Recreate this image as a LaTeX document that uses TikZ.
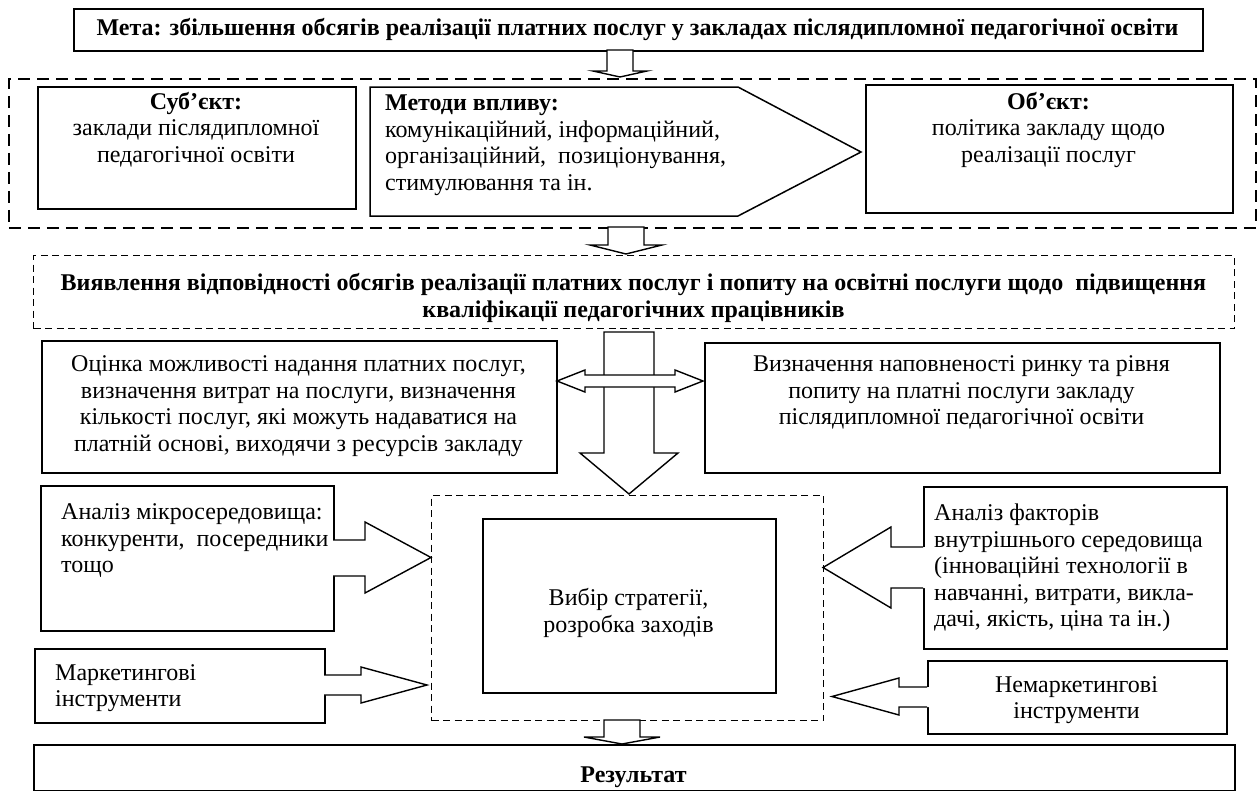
\documentclass[tikz,border=0pt]{standalone}
\usepackage{fontspec}
\setmainfont{Liberation Serif}
\begin{document}
\begin{tikzpicture}[x=1pt,y=-1pt,
  box/.style={draw, line width=1.5pt, anchor=north west, inner sep=0pt},
  dbox/.style={draw, line width=1.5pt, dash pattern=on 12pt off 7pt, anchor=north west, inner sep=0pt},
  sbox/.style={draw, line width=1.2pt, dash pattern=on 7pt off 4.5pt, anchor=north west, inner sep=0pt},
  txt/.style={font=\fontsize{24}{26.5}\selectfont, inner sep=0pt, align=center},
  btxt/.style={font=\bfseries\fontsize{24}{26.5}\selectfont, inner sep=0pt, align=center},
  ltxt/.style={font=\fontsize{24}{26.5}\selectfont, inner sep=0pt, align=left},
  blk/.style={line width=1.4pt, line join=miter},
  blkfill/.style={fill=white}
]
\useasboundingbox (0,0) rectangle (1258,790);
\fill[white] (0,0) rectangle (1258,790);

% ---- top goal
\node[box, minimum width=1129pt, minimum height=42pt] (meta) at (73,8) {};
\node[btxt] (metat) at (637.5,29) {Мета: збільшення обсягів реалізації платних послуг у закладах післядипломної педагогічної освіти};

% ---- outer dashed region
\node[dbox, minimum width=1247pt, minimum height=149pt] (outer) at (8,78) {};
\node[box, minimum width=318pt, minimum height=122pt] (sub) at (37,86) {};
\node[txt, anchor=north] (subt) at (196,92) {\textbf{Суб’єкт:}\\заклади післядипломної\\педагогічної освіти};
\draw[line width=1.5pt, line join=miter] (370,87) -- (738,87) -- (861,152) -- (738,216) -- (370,216) -- cycle;
\coordinate (meth) at (370,87);
\node[ltxt, anchor=north west] (metht) at (385,95) {\textbf{Методи впливу:}\\комунікаційний, інформаційний,\\організаційний,\ \ позиціонування,\\стимулювання та ін.};
\node[box, minimum width=367pt, minimum height=128pt] (obj) at (865,84) {};
\node[txt, anchor=north] (objt) at (1048.5,92) {\textbf{Об’єкт:}\\політика закладу щодо\\реалізації послуг};

% arrow goal -> region
\filldraw[blk, blkfill] (607,50) -- (607,71) -- (593,71) -- (620,77) -- (647,71) -- (633,71) -- (633,50) -- cycle;

% ---- identification
\node[sbox, minimum width=1201pt, minimum height=73pt] (vyav) at (33,255) {};
\node[btxt] (vyavt) at (633.5,298) {Виявлення відповідності обсягів реалізації платних послуг і попиту на освітні послуги щодо\ \ підвищення\\кваліфікації педагогічних працівників};
\filldraw[blk, blkfill] (608,227) -- (608,245) -- (590,245) -- (626,254) -- (662,245) -- (644,245) -- (644,227) -- cycle;

% ---- two assessment boxes
\node[box, minimum width=515pt, minimum height=132pt] (ots) at (41,340) {};
\node[txt] (otst) at (298.5,406) {Оцінка можливості надання платних послуг,\\визначення витрат на послуги, визначення\\кількості послуг, які можуть надаватися на\\платній основі, виходячи з ресурсів закладу};
\node[box, minimum width=515pt, minimum height=130pt] (vyz) at (704,342) {};
\node[txt] (vyzt) at (961.5,392.5) {Визначення наповненості ринку та рівня\\попиту на платні послуги закладу\\післядипломної педагогічної освіти};

% big down arrow
\filldraw[blk, blkfill] (604,332) -- (654,332) -- (654,453) -- (678,453) -- (629,494) -- (580,453) -- (604,453) -- cycle;
% double arrow
\filldraw[blk, blkfill] (557,381) -- (585,370) -- (585,375) -- (675,375) -- (675,370) -- (703,381) -- (675,392) -- (675,387) -- (585,387) -- (585,392) -- cycle;

% ---- strategy block
\node[sbox, minimum width=392pt, minimum height=225pt] (cdash) at (431,495) {};
\node[box, minimum width=293pt, minimum height=174pt] (inner) at (482,518) {};
\node[txt] (innert) at (628.5,613) {Вибір стратегії,\\розробка заходів};

% left side inputs
\node[box, minimum width=293pt, minimum height=145pt] (mikro) at (40,485) {};
\node[ltxt, anchor=west] (mikrot) at (61,541) {Аналіз мікросередовища:\\конкуренти,\ \ посередники\\тощо};
\fill[white] (331,540) -- (365,540) -- (365,522) -- (431,557.5) -- (365,593) -- (365,576) -- (331,576) -- cycle;
\draw[blk] (333,540) -- (365,540) -- (365,522) -- (431,557.5) -- (365,593) -- (365,576) -- (333,576);

\node[box, minimum width=290pt, minimum height=74pt] (mark) at (34,648) {};
\node[ltxt, anchor=west] (markt) at (55,688) {Маркетингові\\інструменти};
\fill[white] (322,675) -- (361,675) -- (361,667) -- (427,685) -- (361,703) -- (361,695) -- (322,695) -- cycle;
\draw[blk] (324,675) -- (361,675) -- (361,667) -- (427,685) -- (361,703) -- (361,695) -- (324,695);

% right side inputs
\node[box, minimum width=303pt, minimum height=162pt] (fakt) at (923,486) {};
\node[ltxt, anchor=west] (faktt) at (934,568) {Аналіз факторів\\внутрішнього середовища\\(інноваційні технології в\\навчанні, витрати, викла-\\дачі, якість, ціна та ін.)};
\fill[white] (925,547) -- (891,547) -- (891,527) -- (823,567.5) -- (891,608) -- (891,588) -- (925,588) -- cycle;
\draw[blk] (923,547) -- (891,547) -- (891,527) -- (823,567.5) -- (891,608) -- (891,588) -- (923,588);

\node[box, minimum width=299pt, minimum height=73pt] (nemark) at (927,660) {};
\node[txt] (nemarkt) at (1076.5,700) {Немаркетингові\\інструменти};
\fill[white] (929,687) -- (899,687) -- (899,678) -- (832,696.5) -- (899,715) -- (899,707) -- (929,707) -- cycle;
\draw[blk] (927,687) -- (899,687) -- (899,678) -- (832,696.5) -- (899,715) -- (899,707) -- (927,707);

% ---- result
\filldraw[blk, blkfill] (604,720) -- (604,737) -- (584,737) -- (622,744) -- (660,737) -- (640,737) -- (640,720) -- cycle;
\node[box, minimum width=1201pt, minimum height=46pt] (res) at (33,744) {};
\node[btxt] (rest) at (633.5,777) {Результат};
\end{tikzpicture}
\end{document}
